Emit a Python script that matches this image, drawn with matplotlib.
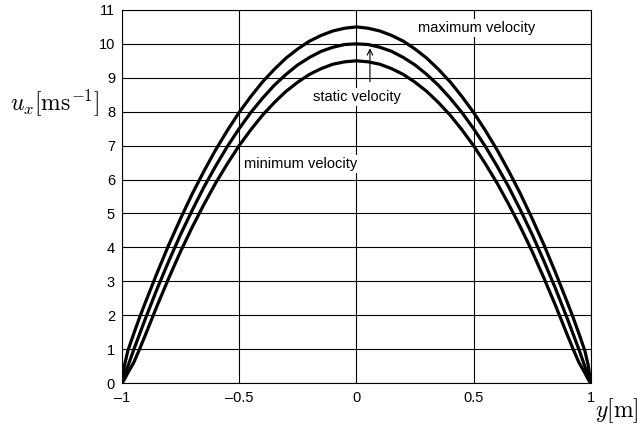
import numpy as np
import matplotlib
matplotlib.use("Agg")
import matplotlib.pyplot as plt

plt.rcParams['font.family'] = ['Liberation Sans', 'DejaVu Sans']
plt.rcParams['mathtext.fontset'] = 'cm'

# left half of the profile, mirrored to the right
y_half = [-1.0, -0.99, -0.975, -0.95, -0.925, -0.9, -0.85, -0.8, -0.75, -0.7,
          -0.65, -0.6, -0.55, -0.5, -0.45, -0.4, -0.35, -0.3, -0.25, -0.2,
          -0.15, -0.1, -0.05, 0.0]
u_max_half = [0, 0.5, 0.95, 1.45, 1.93, 2.38, 3.25, 4.08, 4.85, 5.58,
              6.25, 6.88, 7.45, 7.98, 8.45, 8.88, 9.25, 9.58, 9.85, 10.08,
              10.25, 10.38, 10.46, 10.5]
u_static_half = [0, 0.2, 0.49, 0.98, 1.44, 1.9, 2.78, 3.6, 4.38, 5.1,
                 5.78, 6.4, 6.98, 7.5, 7.98, 8.4, 8.78, 9.1, 9.38, 9.6,
                 9.78, 9.9, 9.98, 10.0]
u_min_half = [0, 0.1, 0.3, 0.6, 1.0, 1.42, 2.28, 3.1, 3.88, 4.6,
              5.27, 5.9, 6.47, 7.0, 7.47, 7.9, 8.27, 8.6, 8.87, 9.1,
              9.27, 9.4, 9.47, 9.5]

y = np.concatenate([y_half, -np.array(y_half[-2::-1])])
u_max = np.concatenate([u_max_half, u_max_half[-2::-1]])
u_static = np.concatenate([u_static_half, u_static_half[-2::-1]])
u_min = np.concatenate([u_min_half, u_min_half[-2::-1]])

xticks = [-1, -0.5, 0, 0.5, 1]
xticklabels = ['\u20131', '\u20130.5', '0', '0.5', '1']
yticks = list(range(0, 12))

fig = plt.figure(figsize=(6.4, 4.32), dpi=100)
ax = fig.add_axes([0.1906, 0.1134, 0.7324, 0.8636])

for u in (u_max, u_static, u_min):
    ax.plot(y, u, color='black', lw=2.3, zorder=3, solid_joinstyle='round')

ax.set_xlim(-1, 1)
ax.set_ylim(0, 11)
ax.set_xticks(xticks)
ax.set_xticklabels(xticklabels)
ax.set_yticks(yticks)
ax.tick_params(length=0, labelsize=10.5)
ax.tick_params(axis='x', pad=6)
ax.tick_params(axis='y', pad=5)
ax.grid(True, color='black', lw=0.8)
for s in ax.spines.values():
    s.set_linewidth(0.8)

box = dict(facecolor='white', edgecolor='none', pad=1.5)
ax.text(0.514, 10.47, 'maximum velocity', fontsize=10.5, ha='center', va='center', bbox=box, zorder=4)
ax.text(0.002, 8.44, 'static velocity', fontsize=10.5, ha='center', va='center', bbox=box, zorder=4)
ax.text(-0.237, 6.46, 'minimum velocity', fontsize=10.5, ha='center', va='center', bbox=box, zorder=4)
ax.annotate('', xy=(0.058, 9.95), xytext=(0.058, 8.8),
            arrowprops=dict(arrowstyle='->', color='black', lw=0.8), zorder=5)

fig.text(0.0156, 0.762, r'$u_x[\mathrm{ms}^{-1}]$', fontsize=17, ha='left', va='center')
fig.text(0.998, 0.05, r'$y[\mathrm{m}]$', fontsize=17, ha='right', va='center')

fig.savefig('out.png', dpi=100)
